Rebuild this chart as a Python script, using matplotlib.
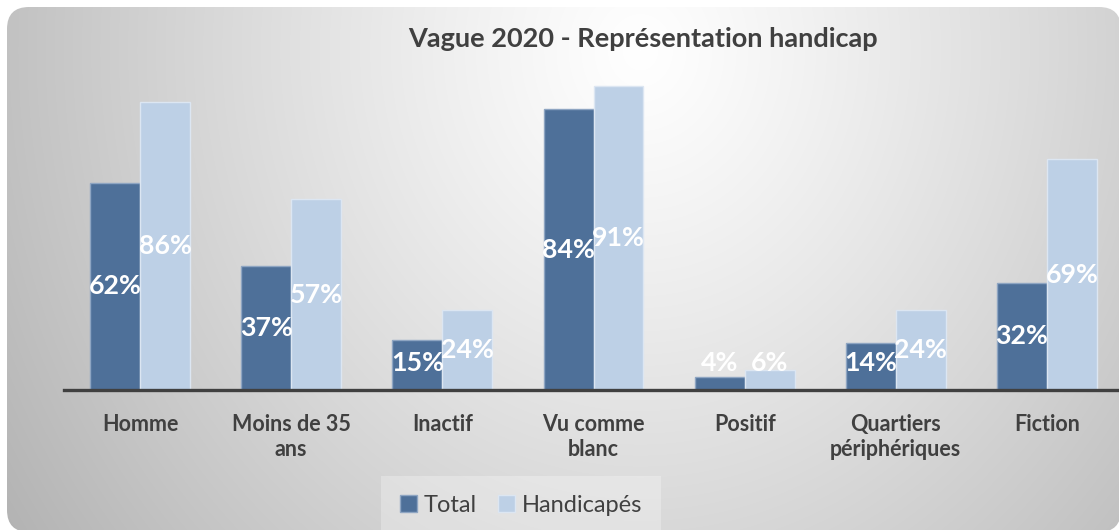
import numpy as np
import matplotlib
matplotlib.use("Agg")
import matplotlib.pyplot as plt
from matplotlib.patches import FancyBboxPatch

categories = ["Homme", "Moins de 35\nans", "Inactif", "Vu comme\nblanc", "Positif",
              "Quartiers\npériphériques", "Fiction"]
total = [62, 37, 15, 84, 4, 14, 32]
handicapes = [86, 57, 24, 91, 6, 24, 69]
series_names = ["Total", "Handicapés"]
title = "Vague 2020 - Représentation handicap"

W, H = 1119, 530
plt.rcParams['font.family'] = ['Lato', 'DejaVu Sans']
fig = plt.figure(figsize=(W / 100, H / 100), dpi=100)
fig.patch.set_facecolor("white")

# background with radial gradient in rounded rectangle
bg = fig.add_axes([0, 0, 1, 1])
bg.set_xlim(0, W)
bg.set_ylim(H, 0)
bg.axis("off")
yy, xx = np.mgrid[0:H, 0:W]
d = np.sqrt(((xx - 640) / 640.0) ** 2 + ((yy - 50) / 720.0) ** 2)
val = np.clip(255 - 62 * d ** 1.15, 170, 255) / 255.0
img = np.dstack([val, val, val])
im = bg.imshow(img, extent=(0, W, H, 0), origin="upper", interpolation="bilinear")
box = FancyBboxPatch((7, 7), 1114, 525, boxstyle="round,pad=0,rounding_size=22",
                     transform=bg.transData, facecolor="none", edgecolor="none")
bg.add_patch(box)
im.set_clip_path(box)

# main axes
left = 64.5 / W
bottom = (H - 390) / H
height = 334.5 / H
ax = fig.add_axes([left, bottom, 1058 / W, height])
ax.set_facecolor("none")
x = np.arange(len(categories))
w = 0.33
c_total = "#4e7099"
c_hand = "#bdd0e6"
ax.bar(x - w / 2, total, w, color=c_total, edgecolor="#8ea5c2", linewidth=1, label=series_names[0])
ax.bar(x + w / 2, handicapes, w, color=c_hand, edgecolor="#dce6f2", linewidth=1, label=series_names[1])
ax.set_xlim(-0.5, len(categories) - 0.5)
ax.set_ylim(0, 100)
for s in ["top", "left", "right"]:
    ax.spines[s].set_visible(False)
ax.spines["bottom"].set_color("#404040")
ax.spines["bottom"].set_linewidth(2.4)
ax.set_yticks([])
ax.set_xticks(x)
ax.set_xticklabels(categories, fontsize=15.5, fontweight="bold", color="#404040", linespacing=1.25)
ax.tick_params(axis="x", length=0, pad=17)

for xs, vals in [(x - w / 2, total), (x + w / 2, handicapes)]:
    for xi, v in zip(xs, vals):
        ax.text(xi, max(v / 2, 8.1), f"{v}%", ha="center", va="center", color="white",
                fontsize=19.3, fontweight="bold")

fig.text(643 / W, 1 - 39 / H, title, ha="center", va="center", fontsize=19.5,
         fontweight="bold", color="#404040")

leg = fig.legend(loc="center", bbox_to_anchor=(521 / W, 1 - 505 / H), ncol=2, frameon=True,
                 fontsize=17, handlelength=0.7, handleheight=0.7, handletextpad=0.3,
                 columnspacing=0.9, borderpad=0.8, labelcolor="#404040")
leg.get_frame().set_facecolor("white")
leg.get_frame().set_alpha(0.28)
leg.get_frame().set_edgecolor("none")
leg.get_frame().set_boxstyle("square", pad=0)

fig.savefig("out.png", dpi=100, facecolor="white")
